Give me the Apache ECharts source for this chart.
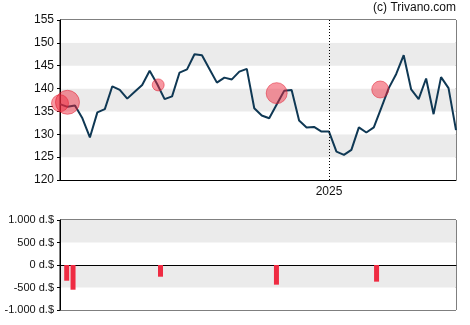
<!DOCTYPE html>
<html>
<head>
<meta charset="utf-8">
<script src="https://cdn.jsdelivr.net/npm/echarts@6/dist/echarts.min.js"></script>
<style>
  html, body { margin: 0; padding: 0; background: #fff; }
  #chart { width: 470px; height: 325px; }
</style>
</head>
<body>
<div id="chart"></div>
<script>
// Weekly closing prices
const weeks = [
  '2024-04-24','2024-05-01','2024-05-08','2024-05-15','2024-05-22','2024-05-29',
  '2024-06-05','2024-06-12','2024-06-19','2024-06-26','2024-07-03','2024-07-10',
  '2024-07-17','2024-07-24','2024-07-31','2024-08-07','2024-08-14','2024-08-21',
  '2024-08-28','2024-09-04','2024-09-11','2024-09-18','2024-09-25','2024-10-02',
  '2024-10-09','2024-10-16','2024-10-23','2024-10-30','2024-11-06','2024-11-13',
  '2024-11-20','2024-11-27','2024-12-04','2024-12-11','2024-12-18','2024-12-25',
  '2025-01-01','2025-01-08','2025-01-15','2025-01-22','2025-01-29','2025-02-05',
  '2025-02-12','2025-02-19','2025-02-26','2025-03-05','2025-03-12','2025-03-19',
  '2025-03-26','2025-04-02','2025-04-09','2025-04-16','2025-04-23','2025-04-30'
];
const prices = [
  136.6, 136.0, 136.3, 133.5, 129.3, 134.8,
  135.5, 140.5, 139.7, 137.8, 139.3, 140.8,
  143.9, 141.0, 137.7, 138.3, 143.5, 144.2,
  147.5, 147.3, 144.3, 141.3, 142.4, 142.0,
  143.7, 144.3, 135.7, 134.1, 133.5, 136.5,
  139.5, 139.7, 133.0, 131.5, 131.6, 130.6,
  130.6, 126.2, 125.5, 126.6, 131.5, 130.4,
  131.5, 135.8, 140.1, 143.2, 147.3, 139.8,
  137.7, 142.2, 134.4, 142.5, 140.1, 130.9
];

// Trade markers on the price chart: date, price, bubble diameter
const tradeDates  = ['2024-04-24', '2024-05-01', '2024-07-25', '2024-11-13', '2025-02-18'];
const tradePrices = [136.8, 137.0, 140.8, 139.0, 139.8];
const tradeSizes  = [17, 24, 12, 21, 17];

// Transaction volumes (d.$) in the lower panel
const volumeDates  = ['2024-04-28', '2024-05-04', '2024-07-26', '2024-11-13', '2025-02-16'];
const volumeValues = [-349, -549, -260, -437, -370];

const priceTicks  = [120, 125, 130, 135, 140, 145, 150, 155];
const volumeTicks = { '1000': '1.000 d.$', '500': '500 d.$', '0': '0 d.$', '-500': '-500 d.$', '-1000': '-1.000 d.$' };
const yearMark = '2025-01-01';
const yearLabel = '2025';

const FONT = 'Liberation Sans, Arial, sans-serif';
const xMin = weeks[0];
const xMax = weeks[weeks.length - 1];

const chart = echarts.init(document.getElementById('chart'), null, { renderer: 'canvas' });

chart.setOption({
  animation: false,
  backgroundColor: '#ffffff',
  graphic: [{
    type: 'text',
    right: 14,
    top: 2,
    style: { text: '(c) Trivano.com', fill: '#111', font: '12px ' + FONT }
  }],
  grid: [
    { left: 60, top: 20, width: 396, height: 160, show: true, borderColor: '#000', borderWidth: 1, backgroundColor: 'transparent' },
    { left: 60, top: 220, width: 396, height: 90, show: true, borderColor: '#000', borderWidth: 1, backgroundColor: 'transparent' }
  ],
  xAxis: [
    {
      type: 'time', gridIndex: 0, min: xMin, max: xMax,
      axisLine: { show: true, lineStyle: { color: '#000', width: 1 } },
      axisTick: { show: false },
      axisLabel: { show: false },
      splitLine: { show: false }
    },
    {
      type: 'time', gridIndex: 1, min: xMin, max: xMax,
      axisLine: { show: true, onZero: true, lineStyle: { color: '#000', width: 1 } },
      axisTick: { show: false },
      axisLabel: { show: false },
      splitLine: { show: false }
    }
  ],
  yAxis: [
    {
      type: 'value', gridIndex: 0, min: priceTicks[0], max: priceTicks[priceTicks.length - 1], interval: 5,
      axisLine: { show: true, lineStyle: { color: '#000', width: 1 } },
      axisTick: { show: true, length: 3, lineStyle: { color: '#000' } },
      axisLabel: { color: '#111', fontSize: 12, fontFamily: FONT, margin: 6 },
      splitLine: { show: false },
      splitArea: { show: true, areaStyle: { color: ['#ffffff', '#ebebeb'] } }
    },
    {
      type: 'value', gridIndex: 1, min: -1000, max: 1000, interval: 500,
      axisLine: { show: true, lineStyle: { color: '#000', width: 1 } },
      axisTick: { show: true, length: 3, lineStyle: { color: '#000' } },
      axisLabel: {
        color: '#111', fontSize: 11, fontFamily: FONT, margin: 6,
        formatter: v => volumeTicks[String(v)]
      },
      splitLine: { show: false },
      splitArea: { show: true, areaStyle: { color: ['#ffffff', '#ebebeb'] } }
    }
  ],
  series: [
    {
      type: 'line', xAxisIndex: 0, yAxisIndex: 0,
      data: weeks.map((d, i) => [d, prices[i]]),
      showSymbol: false, symbol: 'none',
      lineStyle: { color: '#0f3854', width: 2 },
      z: 3,
      markLine: {
        silent: true, symbol: 'none',
        label: {
          show: true, position: 'start', distance: 6,
          formatter: yearLabel, color: '#111', fontSize: 12, fontFamily: FONT
        },
        lineStyle: { color: '#000', type: [1, 2], width: 1 },
        data: [{ xAxis: yearMark }]
      }
    },
    {
      type: 'scatter', xAxisIndex: 0, yAxisIndex: 0,
      data: tradeDates.map((d, i) => [d, tradePrices[i], tradeSizes[i]]),
      symbolSize: v => v[2],
      itemStyle: { color: 'rgba(238, 38, 58, 0.6)', borderColor: 'rgba(225, 30, 50, 0.65)', borderWidth: 1 },
      z: 4
    },
    {
      type: 'bar', xAxisIndex: 1, yAxisIndex: 1,
      data: volumeDates.map((d, i) => [d, volumeValues[i]]),
      barWidth: 5,
      itemStyle: { color: '#ef2b42' }
    }
  ]
});
</script>
</body>
</html>
